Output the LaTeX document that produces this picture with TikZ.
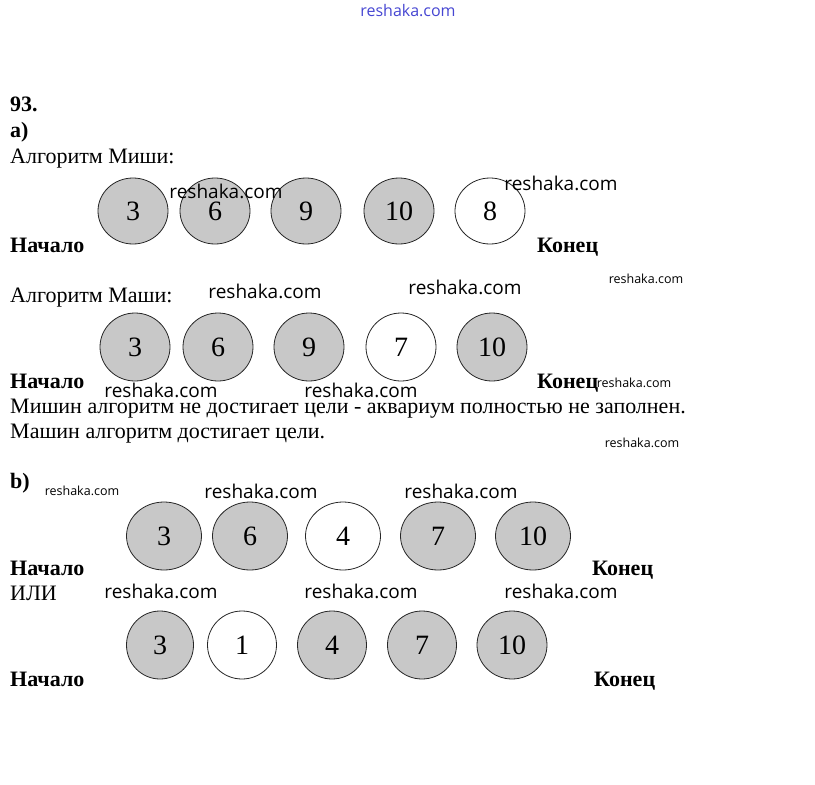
\documentclass[tikz,border=0pt]{standalone}
\usepackage{fontspec}
\setmainfont{Liberation Serif}
\newfontfamily\wmfont{Open Sans}
\usetikzlibrary{shapes.geometric}
\definecolor{ballgray}{RGB}{200,200,200}
\definecolor{wmblue}{RGB}{70,70,210}
\begin{document}
\begin{tikzpicture}[x=1pt, y=-1pt,
    ball/.style={ellipse, draw=black!85, line width=0.8pt, inner sep=0pt,
      minimum width=70, minimum height=66, font=\fontsize{28}{28}\selectfont},
    fullball/.style={ball, fill=ballgray},
    emptyball/.style={ball, fill=white},
    txt/.style={anchor=base west, inner sep=0pt, font=\fontsize{22}{22}\selectfont},
    endtxt/.style={txt, font=\fontsize{22}{22}\selectfont\bfseries},
    wm/.style={inner sep=0pt, font=\wmfont\fontsize{19}{19}\selectfont},
    wmsmall/.style={inner sep=0pt, font=\wmfont\fontsize{12.5}{12.5}\selectfont}]
    \useasboundingbox (0,0) rectangle (815,785);
    \node[wm, text=wmblue, font=\wmfont\fontsize{16}{16}\selectfont] (wmtop) at (408,11) {reshaka.com};

    % part a), Misha
    \node[endtxt] (num) at (10,111) {93.};
    \node[endtxt] (parta) at (10,137) {a)};
    \node[txt] (misha) at (10,163) {Алгоритм Миши:};
    \node[fullball, minimum height=66] (a1) at (133,211) {3};
    \node[fullball, minimum height=66] (a2) at (215,211) {6};
    \node[fullball, minimum height=66] (a3) at (306,211) {9};
    \node[fullball, minimum height=66] (a4) at (399,211) {10};
    \node[emptyball, minimum height=66] (a5) at (490,211) {8};
    \node[endtxt] (astart) at (10,252) {Начало};
    \node[endtxt] (aend) at (537,252) {Конец};
    \node[wm] (wm1) at (226,191) {reshaka.com};
    \node[wm] (wm2) at (561,183) {reshaka.com};
    \node[wmsmall] (wm3) at (646,279) {reshaka.com};

    % part a), Masha
    \node[txt] (masha) at (10,302) {Алгоритм Маши:};
    \node[fullball, minimum height=68] (b1) at (135,347) {3};
    \node[fullball, minimum height=68] (b2) at (218,347) {6};
    \node[fullball, minimum height=68] (b3) at (309,347) {9};
    \node[emptyball, minimum height=68] (b4) at (401,347) {7};
    \node[fullball, minimum height=68] (b5) at (492,347) {10};
    \node[endtxt] (bstart) at (10,388) {Начало};
    \node[endtxt] (bend) at (537,388) {Конец};
    \node[wm] (wm4) at (265,291) {reshaka.com};
    \node[wm] (wm5) at (465,287) {reshaka.com};
    \node[wm] (wm6) at (161,390) {reshaka.com};
    \node[wm] (wm7) at (361,390) {reshaka.com};
    \node[wmsmall] (wm8) at (634,383) {reshaka.com};
    \node[txt] (verdict1) at (10,413) {Мишин алгоритм не достигает цели - аквариум полностью не заполнен.};
    \node[txt] (verdict2) at (10,438) {Машин алгоритм достигает цели.};
    \node[wmsmall] (wm9) at (642,443) {reshaka.com};

    % part b)
    \node[endtxt] (partb) at (10,488) {b)};
    \node[wmsmall] (wm10) at (82,491) {reshaka.com};
    \node[wm] (wm11) at (261,491) {reshaka.com};
    \node[wm] (wm12) at (461,491) {reshaka.com};
    \node[fullball, minimum width=75, minimum height=68] (c1) at (164,536) {3};
    \node[fullball, minimum width=75, minimum height=68] (c2) at (250,536) {6};
    \node[emptyball, minimum width=75, minimum height=68] (c3) at (343,536) {4};
    \node[fullball, minimum width=75, minimum height=68] (c4) at (438,536) {7};
    \node[fullball, minimum width=75, minimum height=68] (c5) at (533,536) {10};
    \node[endtxt] (cstart) at (10,575) {Начало};
    \node[endtxt] (cend) at (592,575) {Конец};
    \node[txt] (orword) at (10,600) {ИЛИ};
    \node[wm] (wm13) at (161,591) {reshaka.com};
    \node[wm] (wm14) at (361,591) {reshaka.com};
    \node[wm] (wm15) at (561,591) {reshaka.com};
    \node[fullball, minimum width=67, minimum height=68] (d1) at (160,645) {3};
    \node[emptyball, minimum width=69, minimum height=68] (d2) at (242,645) {1};
    \node[fullball, minimum width=69, minimum height=68] (d3) at (332,645) {4};
    \node[fullball, minimum width=69, minimum height=68] (d4) at (422,645) {7};
    \node[fullball, minimum width=70, minimum height=68] (d5) at (512,645) {10};
    \node[endtxt] (dstart) at (10,686) {Начало};
    \node[endtxt] (dend) at (594,686) {Конец};
\end{tikzpicture}
\end{document}
